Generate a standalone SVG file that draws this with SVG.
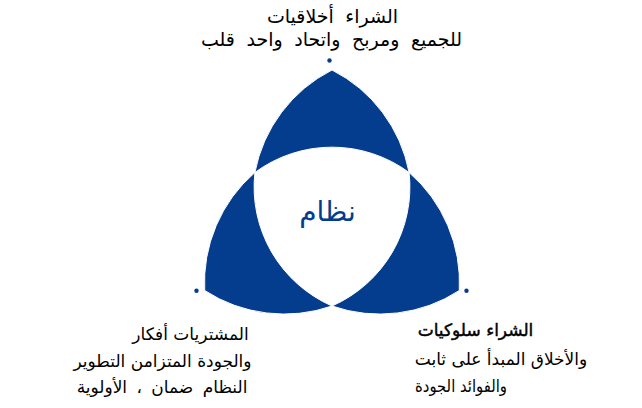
<svg xmlns="http://www.w3.org/2000/svg" width="642" height="408" viewBox="0 0 642 408">
<style>
.petal{fill:#043D8D;stroke:#ffffff;stroke-width:1}
.dot{fill:#043D8D}
.lbl{font-family:"DejaVu Sans","Noto Sans",sans-serif;font-size:17px;fill:#000000;direction:rtl}
.big{font-size:19px;word-spacing:5.5px}
.center{font-family:"DejaVu Sans","Noto Sans",sans-serif;font-size:28px;fill:#043D8D;direction:rtl}
</style>
<rect width="642" height="408" fill="#ffffff"/>
<g id="petal-top">
<path class="petal" d="M254.9,172.5 A146,146 0 0 1 332,70 A146,146 0 0 1 409.1,172.5 A130,130 0 0 0 254.9,172.5 Z"/>
</g>
<g id="petal-left">
<path class="petal" d="M332,306 A146,146 0 0 1 204.7,290.5 A146,146 0 0 1 254.9,172.5 A130,130 0 0 0 332,306 Z"/>
</g>
<g id="petal-right">
<path class="petal" d="M409.1,172.5 A146,146 0 0 1 459.3,290.5 A146,146 0 0 1 332,306 A130,130 0 0 0 409.1,172.5 Z"/>
</g>
<g id="center">
<text class="center" x="327.5" y="221" text-anchor="middle">نظام</text>
</g>
<g id="connectors">
<circle class="dot" cx="329.5" cy="60.5" r="2.2"/>
<circle class="dot" cx="196.5" cy="290.7" r="2.2"/>
<circle class="dot" cx="466.5" cy="290.7" r="2.2"/>
</g>
<g id="label-top">
<text class="lbl big" x="332.5" y="22.5" text-anchor="middle">الشراء أخلاقيات</text>
<text class="lbl big" x="331.5" y="45.5" text-anchor="middle">للجميع ومربح واتحاد واحد قلب</text>
</g>
<g id="label-left">
<text class="lbl" x="190.5" y="340" text-anchor="middle">المشتريات أفكار</text>
<text class="lbl" x="162.5" y="366.5" text-anchor="middle">والجودة المتزامن التطوير</text>
<text class="lbl" x="162" y="393" text-anchor="middle" style="word-spacing:4px">النظام ضمان ، الأولوية</text>
</g>
<g id="label-right">
<text class="lbl" x="475.5" y="336" text-anchor="middle" stroke="#000000" stroke-width="0.45">الشراء سلوكيات</text>
<text class="lbl" x="501" y="365" text-anchor="middle">والأخلاق المبدأ على ثابت</text>
<text class="lbl" x="461" y="392" text-anchor="middle" textLength="92" lengthAdjust="spacingAndGlyphs">والفوائد الجودة</text>
</g>
</svg>
